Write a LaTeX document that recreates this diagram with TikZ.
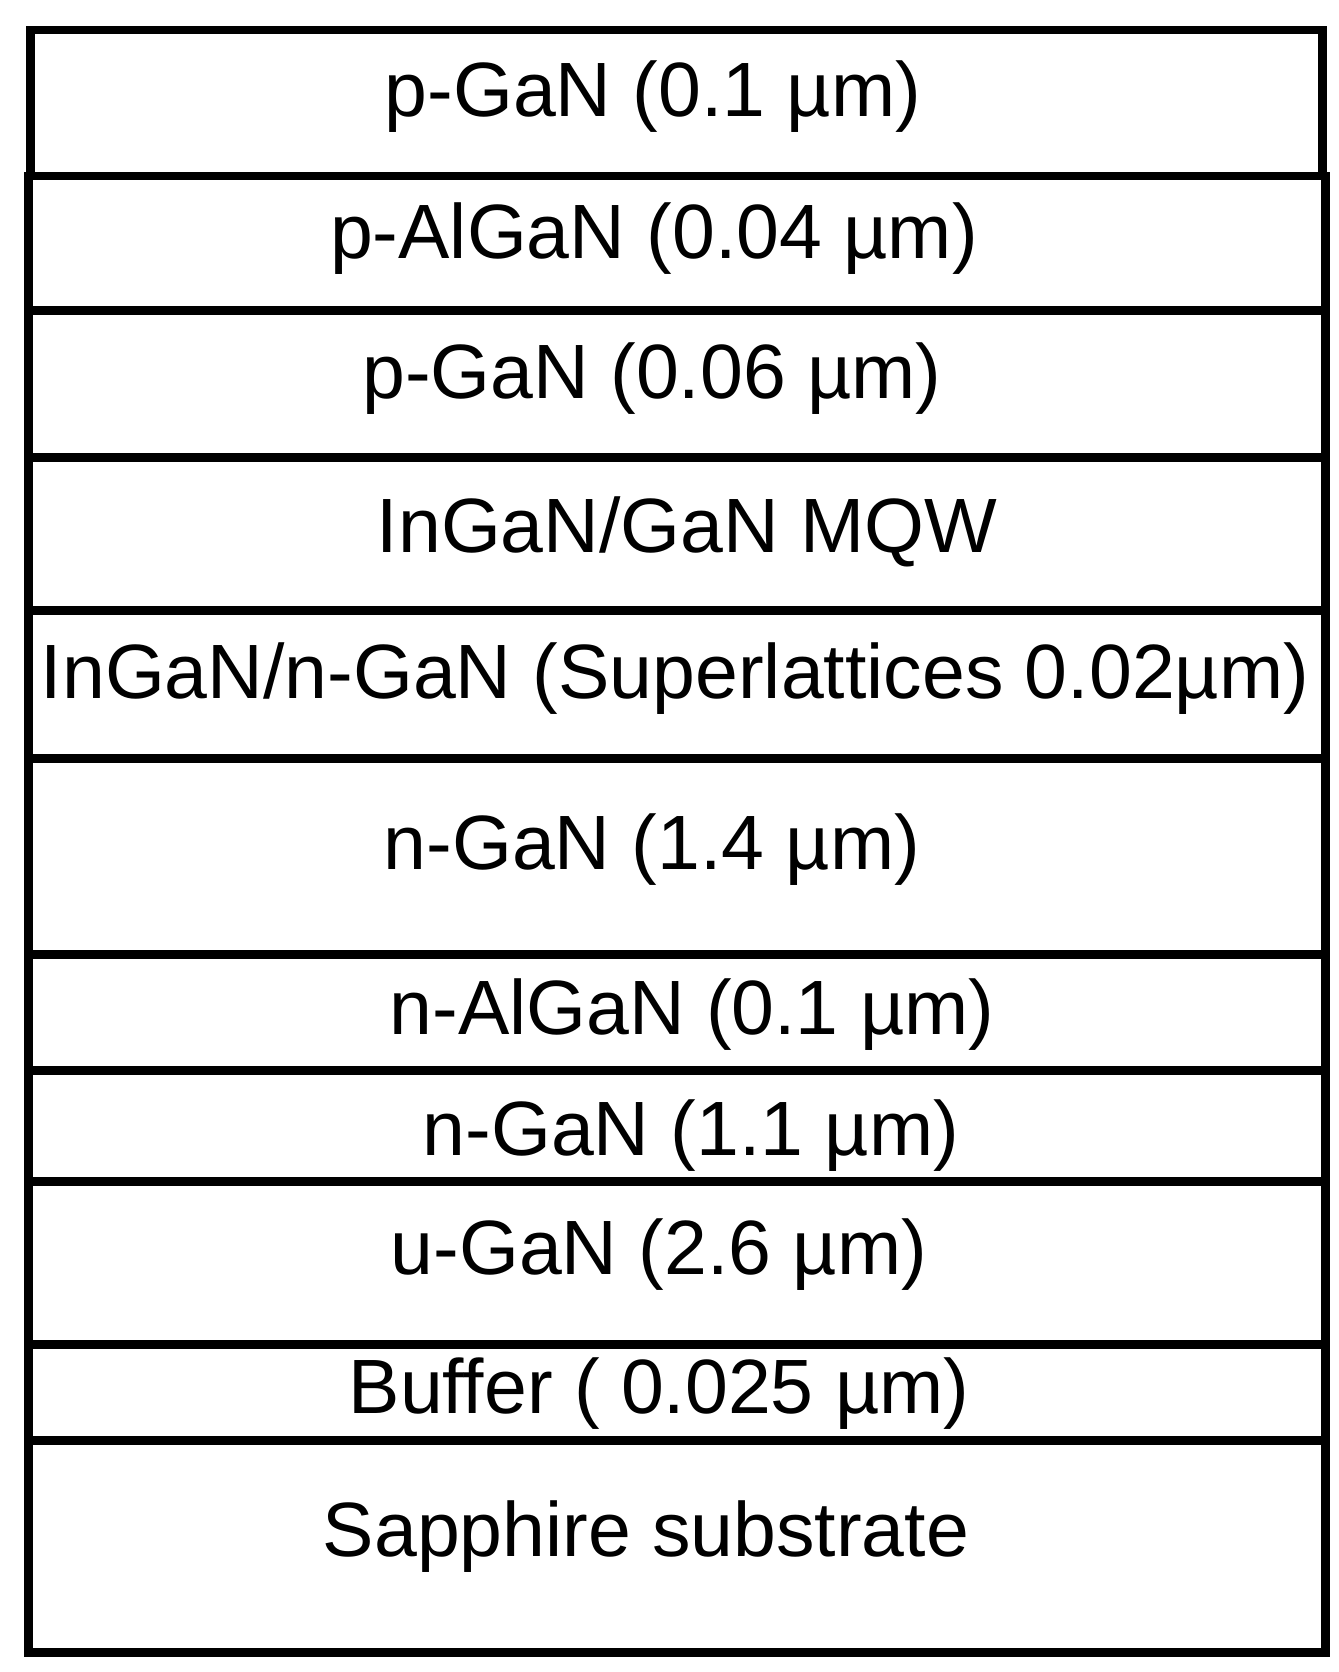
\documentclass[tikz,border=0pt]{standalone}
\usepackage{fontspec}
\setmainfont{Liberation Sans}
\begin{document}
\begin{tikzpicture}[x=1pt,y=-1pt,
  layerbox/.style={draw=black,line width=8.5pt,rectangle,inner sep=0pt,anchor=north west},
  layertext/.style={anchor=base,inner sep=0pt,font=\fontsize{77}{92}\selectfont}]
\useasboundingbox (0,0) rectangle (1338,1672);
\node[layerbox,minimum width=1292pt,minimum height=146pt] (b1) at (26,26) {};
\node[layerbox,minimum width=1297pt,minimum height=134pt] (b2) at (24,172) {};
\node[layerbox,minimum width=1297pt,minimum height=147pt] (b3) at (24,306) {};
\node[layerbox,minimum width=1297pt,minimum height=153pt] (b4) at (24,453) {};
\node[layerbox,minimum width=1297pt,minimum height=148pt] (b5) at (24,606) {};
\node[layerbox,minimum width=1297pt,minimum height=196pt] (b6) at (24,754) {};
\node[layerbox,minimum width=1297pt,minimum height=116pt] (b7) at (24,950) {};
\node[layerbox,minimum width=1297pt,minimum height=111pt] (b8) at (24,1066) {};
\node[layerbox,minimum width=1297pt,minimum height=163pt] (b9) at (24,1177) {};
\node[layerbox,minimum width=1297pt,minimum height=96pt] (b10) at (24,1340) {};
\node[layerbox,minimum width=1297pt,minimum height=212pt] (b11) at (24,1436) {};
\node[layertext] (t1) at (653,117) {p-GaN (0.1 µm)};
\node[layertext] (t2) at (654,258) {p-AlGaN (0.04 µm)};
\node[layertext] (t3) at (652,398) {p-GaN (0.06 µm)};
\node[layertext] (t4) at (687,552) {InGaN/GaN MQW};
\node[layertext] (t5) at (675,698) {InGaN/n-GaN (Superlattices 0.02µm)};
\node[layertext] (t6) at (652,869) {n-GaN (1.4 µm)};
\node[layertext] (t7) at (692,1034) {n-AlGaN (0.1 µm)};
\node[layertext] (t8) at (691,1155) {n-GaN (1.1 µm)};
\node[layertext] (t9) at (659,1274) {u-GaN (2.6 µm)};
\node[layertext] (t10) at (659,1413) {Buffer ( 0.025 µm)};
\node[layertext] (t11) at (646,1556) {Sapphire substrate};
\end{tikzpicture}
\end{document}
